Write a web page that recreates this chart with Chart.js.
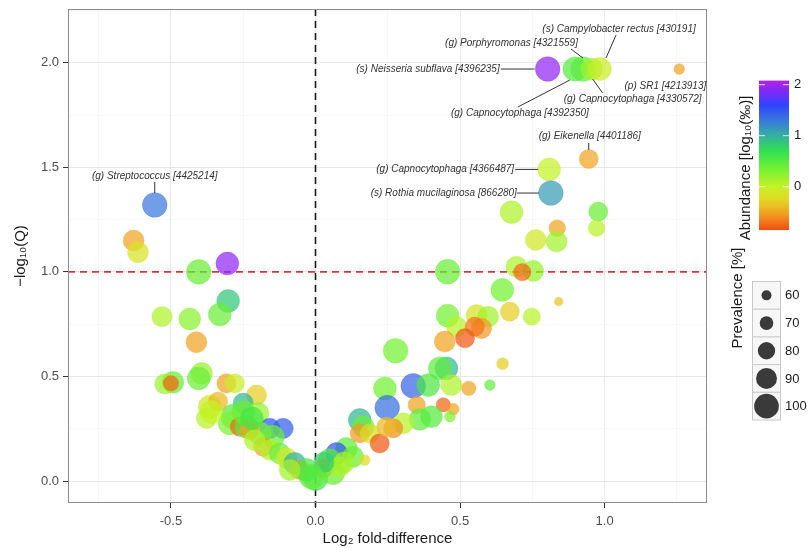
<!DOCTYPE html>
<html>
<head>
<meta charset="utf-8">
<script src="https://cdn.jsdelivr.net/npm/chart.js@4.4.1/dist/chart.umd.min.js"></script>
<style>
  html, body { margin: 0; padding: 0; background: #fff; }
  #wrap { width: 808px; height: 548px; }
</style>
</head>
<body>
<div id="wrap"><canvas id="volcano"></canvas></div>
<script>
// ---- data ----
// first ten rows are the labelled taxa
const foldDiff = [
  0.803, 0.925, 0.897, 0.955, 0.984, 1.258, 0.945, 0.808, 0.814, -0.556,
  0.678, 0.978, 0.972, 0.836, 0.762, 0.834,
  0.457, 0.695, 0.753, 0.715, 0.646, 0.841, 0.672, 0.748, 0.457, 0.557, 0.597,
  0.488, 0.574, 0.551, 0.517, 0.447, 0.277, 0.647, 0.603, 0.530,
  0.453, 0.430, 0.338, 0.390, 0.470, 0.240, 0.248, 0.442, 0.476, 0.465,
  0.350, 0.361, 0.401, 0.303, 0.153, 0.165, 0.269, 0.153, 0.188, 0.222,
  0.245, 0.107, 0.073, 0.049, 0.130, 0.170, 0.026, 0.000, 0.061, 0.084,
  0.030, 0.100,
  -0.629, -0.614, -0.404, -0.305, -0.302, -0.331, -0.531, -0.435, -0.412,
  -0.493, -0.521, -0.500, -0.394, -0.404, -0.308, -0.279, -0.204, -0.366,
  -0.377, -0.337, -0.250, -0.285, -0.297, -0.262, -0.199, -0.158, -0.112,
  -0.193, -0.147, -0.181, -0.158, -0.124, -0.100, -0.072, -0.054, -0.014,
  -0.031, -0.089, -0.239, -0.227, -0.210, -0.360, -0.250, -0.220
];
const negLog10Q = [
  1.970, 1.970, 1.970, 1.970, 1.970, 1.970, 1.540, 1.490, 1.377, 1.320,
  1.286, 1.288, 1.209, 1.209, 1.153, 1.145,
  1.001, 1.025, 1.005, 0.999, 0.914, 0.858, 0.810, 0.786, 0.791, 0.794, 0.786,
  0.738, 0.730, 0.738, 0.683, 0.667, 0.623, 0.561, 0.459, 0.443,
  0.539, 0.539, 0.455, 0.459, 0.459, 0.443, 0.351, 0.364, 0.344, 0.308,
  0.364, 0.295, 0.308, 0.276, 0.292, 0.260, 0.252, 0.228, 0.228, 0.180,
  0.260, 0.156, 0.132, 0.100, 0.116, 0.100, 0.060, 0.013, 0.037, 0.068,
  0.090, 0.090,
  1.150, 1.094, 1.000, 1.040, 0.861, 0.797, 0.786, 0.775, 0.664,
  0.472, 0.464, 0.467, 0.515, 0.491, 0.467, 0.467, 0.411, 0.356,
  0.300, 0.380, 0.372, 0.308, 0.276, 0.260, 0.324, 0.252, 0.252,
  0.228, 0.212, 0.164, 0.148, 0.132, 0.109, 0.085, 0.053, 0.021,
  0.053, 0.053, 0.260, 0.244, 0.196, 0.330, 0.330, 0.300
];
// log10 of abundance in per mille
const abundance = [
  1.95, 0.45, 0.50, 0.15, -0.05, -0.50, -0.50, 0.00, 1.10, 1.30,
  0.10, 0.40, 0.05, -0.50, -0.10, 0.15,
  0.40, 0.10, 0.20, -0.75, 0.35, -0.35, -0.30, 0.05, 0.35, -0.15, 0.15,
  0.05, -0.55, -0.70, -0.80, -0.50, 0.35, -0.30, 0.45, -0.50,
  0.95, 0.45, 1.40, 0.55, 0.10, 0.35, 1.35, -0.75, -0.50, 0.30,
  -0.50, 0.45, 0.50, 0.05, 0.95, 0.40, -0.60, -0.55, -0.20, -0.80,
  -0.40, 0.45, 1.50, 0.50, 0.40, -0.20, -0.55, 0.60, 0.40, 0.10,
  0.80, 0.15,
  -0.50, -0.15, 0.40, 1.95, 0.85, 0.40, 0.10, 0.25, -0.50,
  0.40, 0.20, -0.75, 0.20, 0.40, -0.50, -0.05, -0.30, -0.10,
  0.05, -0.40, 0.95, 0.50, 0.30, -0.75, 0.20, 1.50, 1.45,
  0.35, 0.40, -0.50, 0.10, 0.40, -0.10, 1.00, -0.55, 0.45,
  0.55, 0.15, 0.50, -0.50, 0.10, 0.00, 0.40, 0.60
];
// prevalence in percent
const prevalence = [
  100, 100, 98, 92, 95, 62, 85, 95, 100, 100,
  95, 85, 78, 78, 90, 90,
  100, 90, 90, 80, 95, 56, 85, 80, 95, 90, 90,
  88, 88, 85, 85, 90, 100, 65, 62, 72,
  95, 95, 100, 95, 90, 95, 100, 72, 65, 62,
  80, 92, 92, 90, 95, 92, 85, 85, 85, 85,
  85, 92, 92, 95, 90, 62, 85, 100, 95, 88,
  88, 90,
  90, 90, 100, 95, 95, 95, 88, 92, 90,
  92, 88, 75, 92, 95, 85, 85, 88, 95,
  88, 85, 88, 100, 95, 85, 92, 88, 88,
  95, 95, 85, 88, 90, 90, 92, 85, 100,
  95, 90, 95, 85, 90, 95, 95, 95
];

const xTicks = [-0.5, 0, 0.5, 1.0];
const yTicks = [0, 0.5, 1.0, 1.5, 2.0];
const abundanceBreaks = [0, 1, 2];
const prevalenceBreaks = [60, 70, 80, 90, 100];

const taxonLabels = [
  { i: 0, text: '(s) Neisseria subflava [4396235]', dx: -48, dy: 0, align: 'right', line: [-47, 0, -13, 0] },
  { i: 1, text: '(g) Porphyromonas [4321559]', dx: -5, dy: -26, align: 'right', line: [-12, -20, 0, -11] },
  { i: 4, text: '(s) Campylobacter rectus [430191]', dx: 19, dy: -40, align: 'center', line: [16, -34, 6, -11] },
  { i: 3, text: '(g) Capnocytophaga [4330572]', dx: 41, dy: 30, align: 'center', line: [11, 24, 1, 10] },
  { i: 2, text: '(g) Capnocytophaga [4392350]', dx: -55, dy: 44, align: 'center', line: [-57, 38, -5, 11] },
  { i: 5, text: '(p) SR1 [4213913]', dx: 27, dy: 17, align: 'right', line: null },
  { i: 6, text: '(g) Eikenella [4401186]', dx: 1, dy: -23, align: 'center', line: [0, -16, 0, -9] },
  { i: 7, text: '(g) Capnocytophaga [4366487]', dx: -35, dy: 0, align: 'right', line: [-34, 0, -11, 0] },
  { i: 8, text: '(s) Rothia mucilaginosa [866280]', dx: -34, dy: 0, align: 'right', line: [-34, 0, -12, 0] },
  { i: 9, text: '(g) Streptococcus [4425214]', dx: 0, dy: -29, align: 'center', line: [0, -23, 0, -12] }
];

// ---- styling helpers ----
const FONT = "'Liberation Sans', Arial, Helvetica, sans-serif";
const colourStops = [
  [-0.85, '#f04c12'], [-0.55, '#f39a22'], [-0.25, '#e3d824'], [0.0, '#c4f225'],
  [0.35, '#72f232'], [0.7, '#30e050'], [1.0, '#34b0a0'], [1.3, '#3a78dc'],
  [1.6, '#3044ff'], [1.85, '#7a2cf6'], [2.08, '#b020f0']
];

function hexRgb(h) {
  return [parseInt(h.substr(1, 2), 16), parseInt(h.substr(3, 2), 16), parseInt(h.substr(5, 2), 16)];
}

function colourFor(v, alpha) {
  let lo = colourStops[0], hi = colourStops[colourStops.length - 1];
  if (v <= lo[0]) hi = lo;
  for (let k = 0; k < colourStops.length - 1; k++) {
    if (v >= colourStops[k][0] && v <= colourStops[k + 1][0]) { lo = colourStops[k]; hi = colourStops[k + 1]; break; }
  }
  const t = hi[0] === lo[0] ? 0 : (v - lo[0]) / (hi[0] - lo[0]);
  const a = hexRgb(lo[1]), b = hexRgb(hi[1]);
  const c = a.map((x, k) => Math.round(x + (b[k] - x) * t));
  return `rgba(${c[0]},${c[1]},${c[2]},${alpha})`;
}

function radiusFor(p) {
  return 5 + (p - 60) * 0.183;
}

function isMajor(v) {
  return Math.abs(v * 2 - Math.round(v * 2)) < 1e-6;
}

const points = foldDiff.map((x, k) => ({ x: x, y: negLog10Q[k] }));

// dashed reference lines, borders, labels and legends
const decorations = {
  id: 'decorations',
  beforeDatasetsDraw(chart) {
    const { ctx, chartArea: a, scales: { x, y } } = chart;
    ctx.save();
    ctx.lineWidth = 1.6;
    ctx.setLineDash([7, 5]);
    ctx.strokeStyle = '#1a1a1a';
    const x0 = x.getPixelForValue(0);
    ctx.beginPath(); ctx.moveTo(x0, a.top); ctx.lineTo(x0, a.bottom + 4); ctx.stroke();
    ctx.strokeStyle = '#d8343a';
    const y1 = y.getPixelForValue(1);
    ctx.beginPath(); ctx.moveTo(a.left, y1); ctx.lineTo(a.right, y1); ctx.stroke();
    ctx.restore();
  },
  afterDraw(chart) {
    const { ctx, chartArea: a, scales: { x, y } } = chart;
    ctx.save();
    // panel border
    ctx.strokeStyle = '#8c8c8c';
    ctx.lineWidth = 1;
    ctx.strokeRect(a.left + 0.5, a.top + 0.5, a.right - a.left - 1, a.bottom - a.top - 1);

    // taxon labels with leader lines
    ctx.font = `italic 10px ${FONT}`;
    ctx.fillStyle = '#333';
    ctx.strokeStyle = '#333';
    ctx.lineWidth = 1;
    ctx.textBaseline = 'middle';
    taxonLabels.forEach(l => {
      const px = x.getPixelForValue(foldDiff[l.i]);
      const py = y.getPixelForValue(negLog10Q[l.i]);
      ctx.textAlign = l.align;
      ctx.fillText(l.text, px + l.dx, py + l.dy);
      if (l.line) {
        ctx.beginPath();
        ctx.moveTo(px + l.line[0], py + l.line[1]);
        ctx.lineTo(px + l.line[2], py + l.line[3]);
        ctx.stroke();
      }
    });

    // abundance colour bar
    const barL = a.right + 52, barW = 30;
    const zeroY = 186.7, perUnit = 51;
    const vTop = 2.08, vBot = -0.85;
    const topY = zeroY - vTop * perUnit, botY = zeroY - vBot * perUnit;
    const grad = ctx.createLinearGradient(0, botY, 0, topY);
    colourStops.forEach(s => grad.addColorStop((s[0] - vBot) / (vTop - vBot), colourFor(s[0], 1)));
    ctx.fillStyle = grad;
    ctx.fillRect(barL, topY, barW, botY - topY);
    ctx.strokeStyle = 'rgba(255,255,255,0.8)';
    ctx.fillStyle = '#1a1a1a';
    ctx.font = `13px ${FONT}`;
    ctx.textAlign = 'left';
    abundanceBreaks.forEach(b => {
      const by = zeroY - b * perUnit;
      ctx.beginPath();
      ctx.moveTo(barL, by); ctx.lineTo(barL + 6, by);
      ctx.moveTo(barL + barW - 6, by); ctx.lineTo(barL + barW, by);
      ctx.stroke();
      ctx.fillText(String(b), barL + barW + 5, by);
    });

    // legend titles (rotated)
    ctx.font = `15px ${FONT}`;
    ctx.textAlign = 'center';
    ctx.fillStyle = '#1a1a1a';
    ctx.save();
    ctx.translate(a.right + 38.5, 168);
    ctx.rotate(-Math.PI / 2);
    ctx.fillText('Abundance [log\u2081\u2080(\u2030)]', 0, 0);
    ctx.restore();
    ctx.save();
    ctx.translate(a.right + 30.5, 298);
    ctx.rotate(-Math.PI / 2);
    ctx.fillText('Prevalence [%]', 0, 0);
    ctx.restore();

    // prevalence size key
    const keyL = a.right + 45, keyW = 28, keyTop = 281, keyH = 27.7;
    ctx.font = `13px ${FONT}`;
    ctx.textAlign = 'left';
    prevalenceBreaks.forEach((p, k) => {
      const ky = keyTop + k * keyH;
      ctx.fillStyle = '#f7f7f7';
      ctx.fillRect(keyL, ky, keyW, keyH);
      ctx.strokeStyle = '#c8c8c8';
      ctx.strokeRect(keyL + 0.5, ky + 0.5, keyW, keyH);
      ctx.fillStyle = '#3a3a3a';
      ctx.beginPath();
      ctx.arc(keyL + keyW / 2 + 0.5, ky + keyH / 2 + 0.5, radiusFor(p), 0, Math.PI * 2);
      ctx.fill();
      ctx.fillStyle = '#1a1a1a';
      ctx.fillText(String(p), keyL + keyW + 5, ky + keyH / 2 + 1);
    });
    ctx.restore();
  }
};

const gridOpts = {
  color: c => isMajor(c.tick.value) ? '#e8e8e8' : '#f3f3f3',
  lineWidth: c => isMajor(c.tick.value) ? 1 : 0.7,
  tickColor: c => isMajor(c.tick.value) ? '#333' : 'rgba(0,0,0,0)',
  tickLength: 5,
  drawTicks: true
};

new Chart(document.getElementById('volcano'), {
  type: 'scatter',
  data: {
    datasets: [{
      data: points,
      pointRadius: prevalence.map(radiusFor),
      backgroundColor: abundance.map(v => colourFor(v, 0.72)),
      borderColor: abundance.map(v => colourFor(v, 0.35)),
      borderWidth: 1,
      pointHoverRadius: prevalence.map(radiusFor)
    }]
  },
  options: {
    responsive: true,
    maintainAspectRatio: false,
    animation: false,
    layout: { autoPadding: false, padding: { top: 9, right: 101, left: 0, bottom: 0 } },
    plugins: { legend: { display: false }, tooltip: { enabled: false } },
    scales: {
      x: {
        type: 'linear',
        min: -0.856,
        max: 1.354,
        grid: gridOpts,
        border: { display: false },
        ticks: {
          stepSize: 0.25,
          includeBounds: false,
          autoSkip: false,
          maxRotation: 0,
          padding: 6,
          color: '#4d4d4d',
          font: { family: FONT, size: 13 },
          callback: v => xTicks.some(t => Math.abs(t - v) < 1e-6) ? v.toFixed(1) : ''
        },
        title: {
          display: true,
          text: 'Log\u2082 fold-difference',
          color: '#1a1a1a',
          font: { family: FONT, size: 15 },
          padding: { top: 0, bottom: 0 }
        },
        afterFit: s => { s.height = 45; s.paddingLeft = 0; s.paddingRight = 0; }
      },
      y: {
        type: 'linear',
        min: -0.105,
        max: 2.257,
        grid: gridOpts,
        border: { display: false },
        ticks: {
          stepSize: 0.25,
          includeBounds: false,
          autoSkip: false,
          padding: 4,
          color: '#4d4d4d',
          font: { family: FONT, size: 13 },
          callback: v => yTicks.some(t => Math.abs(t - v) < 1e-6) ? v.toFixed(1) : ''
        },
        title: {
          display: true,
          text: '\u2212log\u2081\u2080(Q)',
          color: '#1a1a1a',
          font: { family: FONT, size: 15 },
          padding: { top: 12, bottom: 0 }
        },
        afterFit: s => { s.width = 68; s.paddingTop = 0; s.paddingBottom = 0; }
      }
    }
  },
  plugins: [decorations]
});
</script>
</body>
</html>
